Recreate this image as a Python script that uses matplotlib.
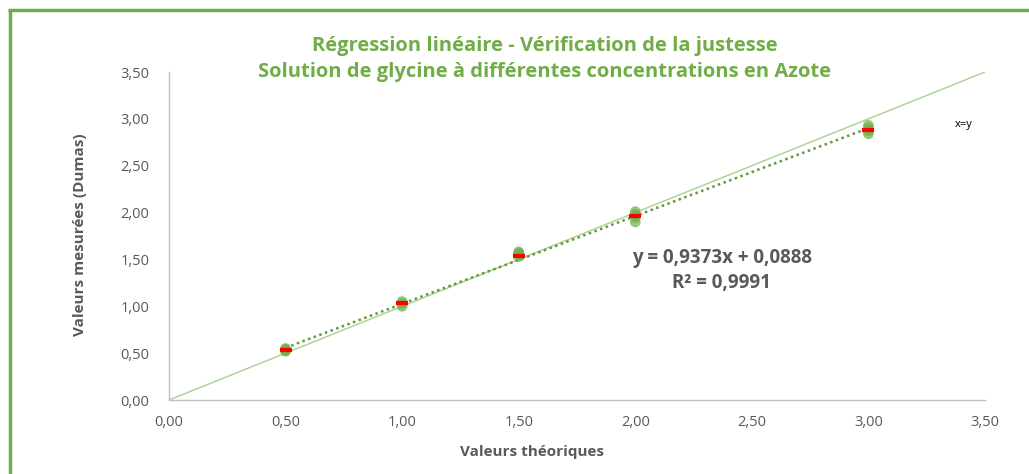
import numpy as np
import matplotlib
matplotlib.use("Agg")
import matplotlib.pyplot as plt
from matplotlib.lines import Line2D

# replicate measurements (Dumas) for each theoretical value
x_theo = [0.5, 1.0, 1.5, 2.0, 3.0]
y_meas = [
    [0.52, 0.53, 0.54, 0.55],
    [1.00, 1.03, 1.05],
    [1.53, 1.55, 1.57, 1.58],
    [1.90, 1.95, 1.98, 2.01],
    [2.84, 2.87, 2.90, 2.93],
]
y_mean = [0.53, 1.03, 1.54, 1.96, 2.88]
slope, intercept, r2 = 0.9373, 0.0888, 0.9991

green = "#70AD47"
txt_grey = "#595959"

plt.rcParams["font.family"] = ["Open Sans", "DejaVu Sans"]

fig = plt.figure(figsize=(10.29, 4.74), dpi=100)
ax = fig.add_axes([169 / 1029, 1 - 400 / 474, 816 / 1029, 328 / 474])

# x = y reference line
ax.plot([0, 3.5], [0, 3.5], color="#A9D18E", lw=1.0, zorder=1)
ax.text(3.37, 2.91, "x=y", fontsize=8, color="black")

# linear trend line (dotted)
xt = np.array([x_theo[0], x_theo[-1]])
ax.plot(xt, slope * xt + intercept, color="#5E9A3A", lw=1.8, ls=(0, (1, 1.4)), zorder=2)

# replicate points
for xv, ys in zip(x_theo, y_meas):
    ax.scatter([xv] * len(ys), ys, s=60, color=green, alpha=0.7, edgecolors="none", zorder=3)

# means
ax.scatter(x_theo, y_mean, marker="_", s=65, linewidths=3, color="#FF0000", zorder=4)

ax.text(2.37, 1.38, "y = 0,9373x + 0,0888\nR² = 0,9991", fontsize=13.5, fontweight="bold",
        color=txt_grey, ha="center", va="center", linespacing=1.3)

ax.set_xlim(0, 3.5)
ax.set_ylim(0, 3.5)
ticks = np.arange(0, 3.51, 0.5)
ax.set_xticks(ticks)
ax.set_yticks(ticks)
ax.set_xticklabels([f"{t:.2f}".replace(".", ",") for t in ticks])
ax.set_yticklabels([f"{t:.2f}".replace(".", ",") for t in ticks])
ax.tick_params(length=0, labelsize=10.5, colors=txt_grey)
ax.tick_params(axis="x", pad=11)
ax.tick_params(axis="y", pad=14)
for s in ["top", "right"]:
    ax.spines[s].set_visible(False)
for s in ["left", "bottom"]:
    ax.spines[s].set_color("#BFBFBF")
    ax.spines[s].set_linewidth(1.0)

fig.text(532 / 1029, 1 - 452 / 474, "Valeurs théoriques", fontsize=11, fontweight="bold",
         color=txt_grey, ha="center", va="center")
fig.text(80 / 1029, 1 - 235 / 474, "Valeurs mesurées (Dumas)", fontsize=11, fontweight="bold",
         color=txt_grey, ha="center", va="center", rotation=90)

fig.text(545 / 1029, 1 - 59 / 474,
         "Régression linéaire - Vérification de la justesse\n"
         "Solution de glycine à différentes concentrations en Azote",
         ha="center", va="center", fontsize=14.5, fontweight="bold", color=green, linespacing=1.45)

# green chart frame (left and top edges visible)
fig.add_artist(Line2D([9.5 / 1029, 9.5 / 1029], [0, 1 - 10 / 474], transform=fig.transFigure,
                      color=green, lw=2.5, solid_capstyle="butt"))
fig.add_artist(Line2D([8.3 / 1029, 1], [1 - 10 / 474, 1 - 10 / 474], transform=fig.transFigure,
                      color=green, lw=2.5, solid_capstyle="butt"))

fig.savefig("out.png", dpi=100)
